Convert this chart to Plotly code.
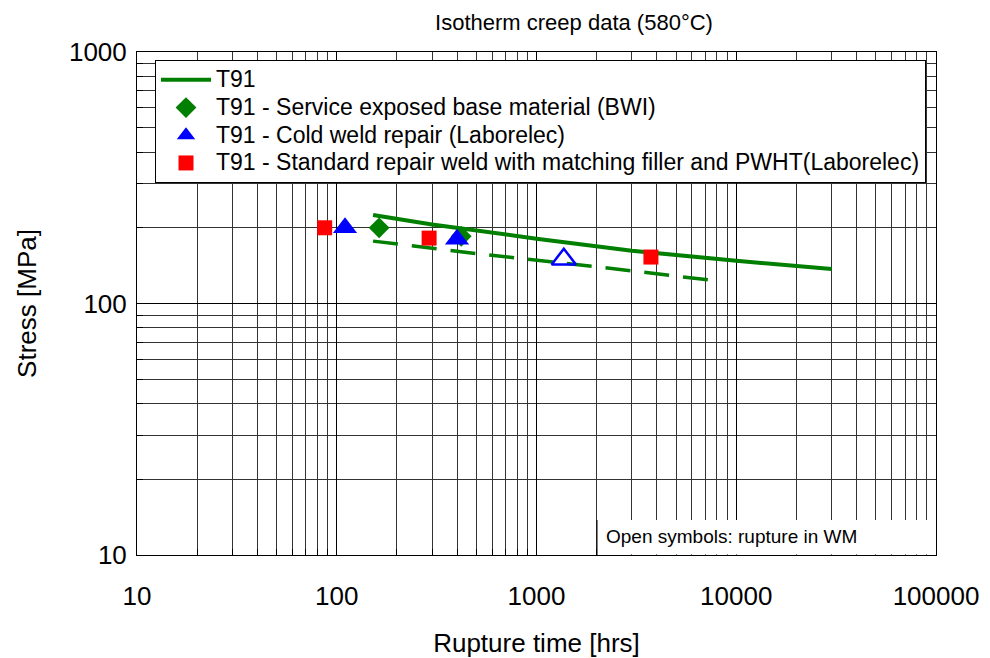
import plotly.graph_objects as go

# ---- data ----
t91_x = [152, 300, 1000, 3000, 10000, 30000]
t91_y = [225, 206, 181, 162, 148, 137]
band_x = [152, 500, 2000, 8000]
band_y = [177, 158, 140, 123]
bwi_x = [163, 420]
bwi_y = [200, 185]
cold_x = [110, 400]
cold_y = [200, 180]
cold_open_x = [1370]
cold_open_y = [150]
std_x = [87, 290, 3740]
std_y = [200, 182, 153]

x_ticks = [10, 100, 1000, 10000, 100000]
y_ticks = [10, 100, 1000]
x_minor = [m * 10 ** e for e in range(1, 5) for m in range(2, 10)]
y_minor = [m * 10 ** e for e in range(1, 3) for m in range(2, 10)]

GREEN = "#007f00"
FONT = "Liberation Sans, Arial, sans-serif"


def lg(name):
    return '<span style="font-size:23px">' + name + "</span>"


fig = go.Figure()
fig.add_trace(go.Scatter(x=t91_x, y=t91_y, mode="lines", name=lg("T91"),
                         line=dict(color=GREEN, width=4)))
fig.add_trace(go.Scatter(x=band_x, y=band_y, mode="lines", showlegend=False,
                         line=dict(color=GREEN, width=3.5, dash="25px,14px")))
fig.add_trace(go.Scatter(x=bwi_x, y=bwi_y, mode="markers",
                         name=lg("T91 - Service exposed base material (BWI)"),
                         marker=dict(symbol="diamond", size=16, color=GREEN)))
fig.add_trace(go.Scatter(x=cold_x, y=cold_y, mode="markers",
                         name=lg("T91 - Cold weld repair (Laborelec)"),
                         marker=dict(symbol="triangle-up", size=21, color="#0000ff")))
fig.add_trace(go.Scatter(x=cold_open_x, y=cold_open_y, mode="markers", showlegend=False,
                         marker=dict(symbol="triangle-up-open", size=21, color="#0000ff",
                                     line=dict(width=2.5, color="#0000ff"))))
fig.add_trace(go.Scatter(x=std_x, y=std_y, mode="markers",
                         name=lg("T91 - Standard repair weld with matching filler and PWHT(Laborelec)"),
                         marker=dict(symbol="square", size=15, color="#ff0000")))

axis_common = dict(
    type="log", showline=True, linecolor="black", linewidth=1, mirror=True,
    showgrid=True, gridcolor="black", gridwidth=1, zeroline=False, automargin=False,
    ticks="", tickfont=dict(size=26, family=FONT, color="black"),
)
fig.update_xaxes(**axis_common, range=[1, 5], tickvals=x_ticks,
                 ticktext=[str(v) for v in x_ticks], ticklabelstandoff=18,
                 minor=dict(tickvals=x_minor, showgrid=True, gridcolor="#333333",
                            gridwidth=1, ticks="inside", ticklen=6, tickcolor="black"),
                 title=dict(text="Rupture time [hrs]", font=dict(size=26, family=FONT, color="black"),
                            standoff=23))
fig.update_yaxes(**axis_common, range=[1, 3], tickvals=y_ticks,
                 ticktext=[str(v) for v in y_ticks], ticklabelstandoff=4,
                 minor=dict(tickvals=y_minor, showgrid=True, gridcolor="#333333",
                            gridwidth=1, ticks="inside", ticklen=6, tickcolor="black"),
                 title=dict(text="Stress [MPa]", font=dict(size=26, family=FONT, color="black"),
                            standoff=24))

box_x0 = (597 - 137) / 799
box_y1 = (555 - 520) / 503
fig.add_shape(type="rect", xref="paper", yref="paper", x0=box_x0, x1=0.999,
              y0=0.001, y1=box_y1, fillcolor="white", line=dict(width=0), layer="above")
fig.add_shape(type="line", xref="paper", yref="paper", x0=box_x0, x1=box_x0,
              y0=0, y1=box_y1, line=dict(color="black", width=1), layer="above")
fig.add_annotation(text="Open symbols: rupture in WM", xref="paper", yref="paper",
                   x=(604 - 137) / 799, y=(555 - 536) / 503, xanchor="left", yanchor="middle",
                   showarrow=False, font=dict(size=19, family=FONT, color="black"))

fig.update_layout(
    width=990, height=658,
    margin=dict(l=137, r=54, t=52, b=103),
    paper_bgcolor="white", plot_bgcolor="white",
    title=dict(text="Isotherm creep data (580°C)", x=574 / 990, xanchor="center",
               y=1 - 22 / 658, yanchor="middle",
               font=dict(size=22, family=FONT, color="black")),
    font=dict(family=FONT, color="black"),
    legend=dict(x=(155 - 137) / 799, y=(555 - 60) / 503, xanchor="left", yanchor="top",
                bgcolor="white", bordercolor="black", borderwidth=1,
                font=dict(size=19, family=FONT, color="black"),
                itemwidth=50, tracegroupgap=0),
)

fig.write_html("out.html")
